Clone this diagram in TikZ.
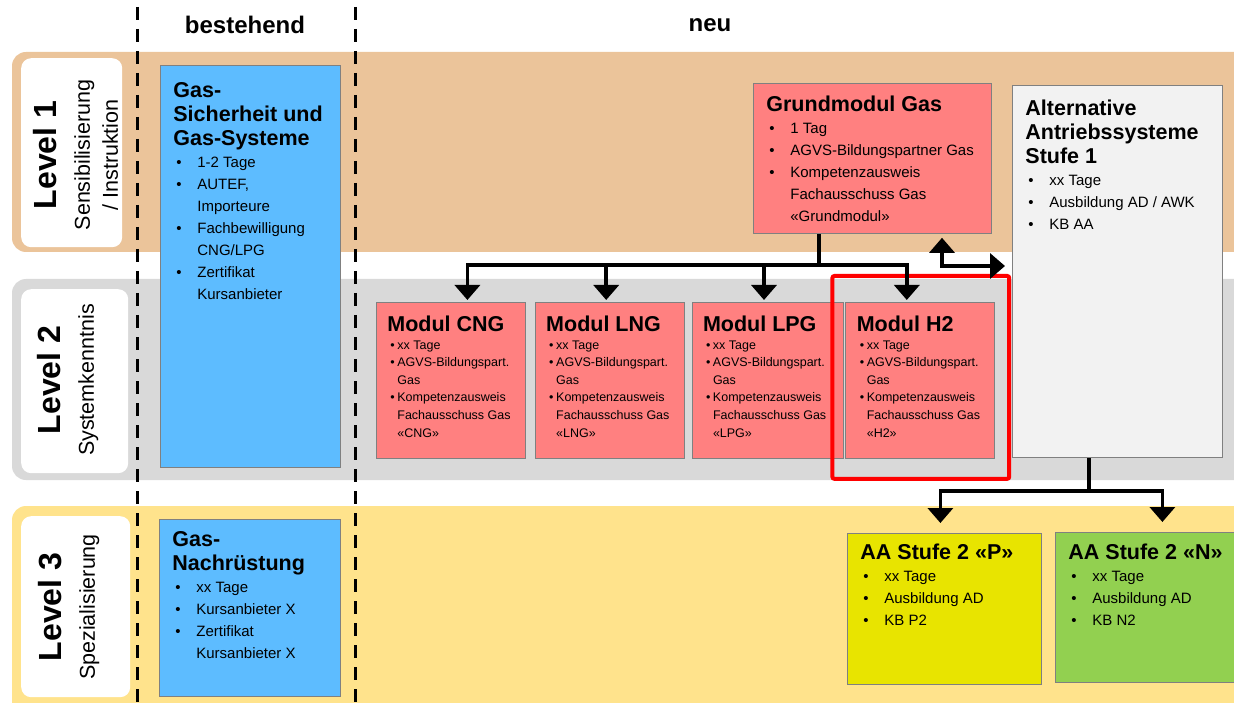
\documentclass[tikz,border=0pt]{standalone}
\usepackage{fontspec}
\setmainfont{Liberation Sans}
\usetikzlibrary{positioning,arrows.meta}

\definecolor{lvlone}{RGB}{235,196,154}
\definecolor{lvltwo}{RGB}{217,217,217}
\definecolor{lvlthree}{RGB}{255,227,140}
\definecolor{gasblue}{RGB}{93,188,255}
\definecolor{modred}{RGB}{255,128,128}
\definecolor{altgray}{RGB}{242,242,242}
\definecolor{pyellow}{RGB}{232,228,0}
\definecolor{ngreen}{RGB}{146,208,80}
\definecolor{boxline}{RGB}{128,128,128}

\newlength{\itmind}
\newcommand{\ttl}[1]{{\fontsize{21.5}{24}\selectfont\bfseries #1\par}}
\newcommand{\itm}[1]{\par\hangindent=\itmind\hangafter=1\noindent\makebox[\itmind][l]{\hspace{3pt}\textbullet}#1}
\newcommand{\boxbody}[5]{\parbox[t][#1][t]{#2}{\raggedright\leftskip=#3\relax\vspace*{#4}#5\par}}

\begin{document}
\begin{tikzpicture}[x=1pt, y=-1pt,
    lvl/.style={fill=white, rounded corners=10pt, anchor=north west, inner sep=0pt},
    lvltxt/.style={rotate=90, align=center, inner sep=0pt, font=\fontsize{21.5}{28}\selectfont},
    course/.style={draw=boxline, line width=0.8pt, anchor=north west, inner sep=0pt,
        font=\fontsize{15}{22}\selectfont, execute at begin node={\setlength{\itmind}{24pt}}},
    modul/.style={course, fill=modred, font=\fontsize{12.5}{17.6}\selectfont,
        execute at begin node={\setlength{\itmind}{10pt}}},
    hdr/.style={font=\fontsize{24}{26}\selectfont\bfseries, inner sep=0pt},
    link/.style={line width=3.5pt},
    arr/.style={link, -{Triangle[width=25pt,length=15pt]}},
    arrboth/.style={link, {Triangle[width=25pt,length=15pt]}-{Triangle[width=25pt,length=15pt]}},
    sep/.style={line width=3pt, dash pattern=on 13pt off 9pt},
    hilite/.style={draw=red, line width=4pt, rounded corners=2pt}]

    \clip (0,0) rectangle (1234,703);

    \fill[lvlone, rounded corners=14pt] (12,52) rectangle (1260,252);
    \fill[lvltwo, rounded corners=14pt] (12,279) rectangle (1260,480);
    \fill[lvlthree, rounded corners=14pt] (12,506) rectangle (1260,730);

    \node[lvl, minimum width=101pt, minimum height=189pt] (lvl1) at (21,58) {};
    \node[lvl, minimum width=107pt, minimum height=184pt] (lvl2) at (21,289) {};
    \node[lvl, minimum width=109pt, minimum height=181pt] (lvl3) at (21,516) {};

    \node[lvltxt] (lvl1t) at (76,155) {{\fontsize{32}{34}\selectfont\bfseries Level 1}\\[5pt] Sensibilisierung\\ / Instruktion};
    \node[lvltxt] (lvl2t) at (68,380) {{\fontsize{32}{34}\selectfont\bfseries Level 2}\\[5pt] Systemkenntnis};
    \node[lvltxt] (lvl3t) at (69,607) {{\fontsize{32}{34}\selectfont\bfseries Level 3}\\[5pt] Spezialisierung};

    \draw[sep] (137,7) -- (137,703);
    \draw[sep] (355,7) -- (355,703);

    \node[hdr] (hdrold) at (245,25) {bestehend};
    \node[hdr] (hdrnew) at (710,25) {neu};

    \node[course, fill=gasblue] (sicher) at (160,65) {\boxbody{402pt}{180pt}{13pt}{16.6pt}{%
        \ttl{Gas-\\Sicherheit und\\Gas-Systeme}
        \itm{1-2 Tage}
        \itm{AUTEF,\newline Importeure}
        \itm{Fachbewilligung\newline CNG/LPG}
        \itm{Zertifikat\newline Kursanbieter}}};
    \node[course, fill=gasblue] (nachr) at (159,519) {\boxbody{177pt}{181pt}{13pt}{11.6pt}{%
        \ttl{Gas-\\Nachrüstung}
        \itm{xx Tage}
        \itm{Kursanbieter X}
        \itm{Zertifikat\newline Kursanbieter X}}};

    \node[course, fill=modred] (grund) at (753,83) {\boxbody{150pt}{238pt}{13pt}{12.6pt}{%
        \ttl{Grundmodul Gas}
        \itm{1 Tag}
        \itm{AGVS-Bildungspartner Gas}
        \itm{Kompetenzausweis\newline Fachausschuss Gas\newline «Grundmodul»}}};
    \node[course, fill=altgray] (alt) at (1012,85) {\boxbody{372pt}{210pt}{13pt}{14.6pt}{%
        \ttl{Alternative\\Antriebssysteme\\Stufe 1}
        \itm{xx Tage}
        \itm{Ausbildung AD / AWK}
        \itm{KB AA}}};

    \node[modul] (cng) at (376,302) {\boxbody{156pt}{149pt}{11pt}{13.6pt}{%
        \ttl{Modul CNG}
        \itm{xx Tage}
        \itm{AGVS-Bildungspart.\newline Gas}
        \itm{Kompetenzausweis\newline Fachausschuss Gas\newline «CNG»}}};
    \node[modul, right=9pt of cng] (lng) {\boxbody{156pt}{149pt}{11pt}{13.6pt}{%
        \ttl{Modul LNG}
        \itm{xx Tage}
        \itm{AGVS-Bildungspart.\newline Gas}
        \itm{Kompetenzausweis\newline Fachausschuss Gas\newline «LNG»}}};
    \node[modul, right=7pt of lng] (lpg) {\boxbody{156pt}{151pt}{11pt}{13.6pt}{%
        \ttl{Modul LPG}
        \itm{xx Tage}
        \itm{AGVS-Bildungspart.\newline Gas}
        \itm{Kompetenzausweis\newline Fachausschuss Gas\newline «LPG»}}};
    \node[modul, right=2pt of lpg] (h2) {\boxbody{156pt}{149pt}{11pt}{13.6pt}{%
        \ttl{Modul H2}
        \itm{xx Tage}
        \itm{AGVS-Bildungspart.\newline Gas}
        \itm{Kompetenzausweis\newline Fachausschuss Gas\newline «H2»}}};

    \node[course, fill=pyellow] (aap) at (847,533) {\boxbody{151pt}{194pt}{13pt}{10.6pt}{%
        \ttl{AA Stufe 2 «P»}
        \itm{xx Tage}
        \itm{Ausbildung AD}
        \itm{KB P2}}};
    \node[course, fill=ngreen] (aan) at (1055,532) {\boxbody{150pt}{190pt}{13pt}{11.6pt}{%
        \ttl{AA Stufe 2 «N»}
        \itm{xx Tage}
        \itm{Ausbildung AD}
        \itm{KB N2}}};

    \draw[hilite] ([xshift=-13pt,yshift=26pt]h2.north west) rectangle ([xshift=14pt,yshift=-20pt]h2.south east);

    \coordinate (bus) at (819,265);
    \draw[link] (grund.south -| bus) -- (bus);
    \draw[arr] (bus) -| ([xshift=16.5pt,yshift=2pt]cng.north);
    \draw[arr] (bus) -| ([xshift=-3.5pt,yshift=2pt]lng.north);
    \draw[arr] (bus) -| ([xshift=-3.5pt,yshift=2pt]lpg.north);
    \draw[arr] (bus) -| ([xshift=-13.5pt,yshift=2pt]h2.north);

    \coordinate (knee) at (942,266);
    \draw[arrboth] ([yshift=-4pt]grund.south -| knee) -- (knee) -- ([xshift=-7pt]alt.west |- knee);

    \coordinate (split) at (1089,491);
    \draw[link] (alt.south -| split) -- (split);
    \draw[arr] (split) -| ([xshift=-4pt,yshift=10pt]aap.north);
    \draw[arr] (split) -| ([xshift=12pt,yshift=10pt]aan.north);
\end{tikzpicture}
\end{document}
